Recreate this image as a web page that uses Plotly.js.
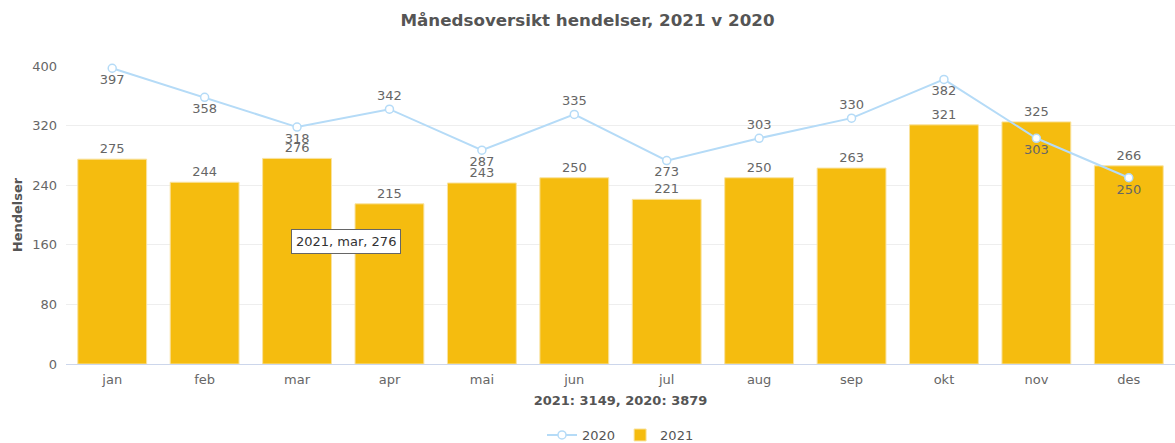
<!DOCTYPE html>
<html>
<head>
<meta charset="utf-8">
<script src="https://cdn.plot.ly/plotly-3.0.1.min.js"></script>
<style>
html,body{margin:0;padding:0;background:#fff;}
#chart{width:1175px;height:443px;}
</style>
</head>
<body>
<div id="chart"></div>
<script>
const months = ["jan","feb","mar","apr","mai","jun","jul","aug","sep","okt","nov","des"];
const values2021 = [275,244,276,215,243,250,221,250,263,321,325,266];
const values2020 = [397,358,318,342,287,335,273,303,330,382,303,250];
const labelPos2020 = ["bottom center","bottom center","bottom center","top center","bottom center","top center","bottom center","top center","top center","bottom center","bottom center","bottom center"];
const yTicks = [0,80,160,240,320,400];
const titleText = "Månedsoversikt hendelser, 2021 v 2020";
const xTitleText = "2021: 3149, 2020: 3879";
const yTitleText = "Hendelser";
const tooltipText = "2021, mar, 276";

const font = "Verdana, 'DejaVu Sans', sans-serif";

const traces = [
  {
    type: "bar",
    name: "2021",
    x: months,
    y: values2021,
    text: values2021.map(String),
    textposition: "outside",
    cliponaxis: false,
    textfont: {family: font, size: 13, color: "#666"},
    marker: {color: "#f5bc0f", line: {color: "#f9e3a0", width: 1}},
    hoverinfo: "skip"
  },
  {
    type: "scatter",
    mode: "lines+markers+text",
    name: "2020",
    x: months,
    y: values2020,
    text: values2020.map(String),
    textposition: labelPos2020,
    cliponaxis: false,
    textfont: {family: font, size: 13, color: "#666"},
    line: {color: "#b5dbf7", width: 2},
    marker: {symbol: "circle", size: 8, color: "#ffffff", line: {color: "#b5dbf7", width: 1.5}},
    hoverinfo: "skip"
  }
];

const layout = {
  width: 1175,
  height: 443,
  margin: {l: 66, r: 0, t: 66, b: 79},
  paper_bgcolor: "#fff",
  plot_bgcolor: "#fff",
  font: {family: font, color: "#666", size: 13},
  title: {
    text: "<b>" + titleText + "</b>",
    x: 0.5, xanchor: "center",
    y: 0.955, yanchor: "middle",
    font: {family: font, size: 16.7, color: "#555"}
  },
  bargap: 0.255,
  showlegend: true,
  legend: {
    orientation: "h",
    x: 0.5, xanchor: "center",
    xref: "paper",
    yref: "container",
    y: 0.018, yanchor: "middle",
    traceorder: "reversed",
    itemwidth: 30,
    font: {family: font, size: 13, color: "#555"}
  },
  xaxis: {
    type: "category",
    categoryorder: "array",
    categoryarray: months,
    range: [-0.5, 11.5],
    autorange: false,
    showgrid: false,
    showline: true,
    linecolor: "#ccd6eb",
    linewidth: 1,
    ticks: "",
    ticklabelstandoff: 3,
    tickfont: {family: font, size: 13, color: "#666"},
    title: {
      text: "<b>" + xTitleText + "</b>",
      standoff: 10,
      font: {family: font, size: 13, color: "#555"}
    },
    automargin: false
  },
  yaxis: {
    range: [0, 400],
    autorange: false,
    tickvals: yTicks,
    showgrid: true,
    gridcolor: "#eeeeee",
    zeroline: false,
    showline: false,
    ticks: "",
    ticklabelstandoff: 8,
    tickfont: {family: font, size: 13, color: "#666"},
    title: {
      text: "<b>" + yTitleText + "</b>",
      standoff: 6,
      font: {family: font, size: 13, color: "#555"}
    },
    automargin: false
  },
  annotations: [
    {
      x: 2.53, y: 165,
      xref: "x", yref: "y",
      text: tooltipText,
      showarrow: false,
      bgcolor: "#ffffff",
      bordercolor: "#666666",
      borderwidth: 1,
      borderpad: 4,
      font: {family: font, size: 13, color: "#333"}
    }
  ]
};

Plotly.newPlot("chart", traces, layout, {displayModeBar: false, staticPlot: true});
</script>
</body>
</html>
